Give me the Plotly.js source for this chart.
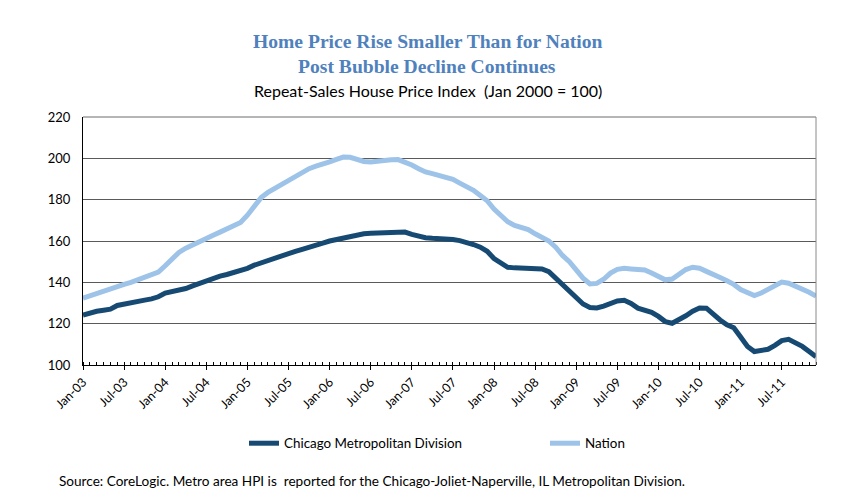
<!DOCTYPE html>
<html>
<head>
<meta charset="utf-8">
<script src="https://cdn.plot.ly/plotly-3.0.1.min.js"></script>
<style>html,body{margin:0;padding:0;background:#fff;}#chart{width:843px;height:503px;}</style>
</head>
<body>
<div id="chart"></div>
<script>
// Month labels Jan-03 .. Dec-11
const monthNames = ["Jan","Feb","Mar","Apr","May","Jun","Jul","Aug","Sep","Oct","Nov","Dec"];
const years = ["03","04","05","06","07","08","09","10","11"];
const months = [];
years.forEach(y => monthNames.forEach(m => months.push(m + "-" + y)));

const tickLabels = ["Jan-03","Jul-03","Jan-04","Jul-04","Jan-05","Jul-05","Jan-06","Jul-06","Jan-07","Jul-07",
  "Jan-08","Jul-08","Jan-09","Jul-09","Jan-10","Jul-10","Jan-11","Jul-11"];

const chicago = [
  124.2,125.2,126.0,126.5,127.0,128.8,129.6,130.2,130.8,131.4,132.0,133.0,
  134.8,135.5,136.0,137.0,138.3,139.6,140.8,142.0,143.0,143.8,144.8,145.5,
  146.8,148.3,149.5,150.5,151.5,152.8,154.0,155.0,156.0,157.2,158.3,159.0,
  160.0,160.8,161.5,162.3,163.0,163.5,163.7,163.9,164.0,164.3,164.6,164.3,
  163.2,162.2,161.6,161.3,161.2,161.0,160.7,160.2,159.5,158.3,157.0,155.0,
  151.5,149.3,147.3,147.0,146.8,146.7,146.6,146.5,145.2,142.0,139.0,136.0,
  132.5,129.5,127.8,127.6,128.5,129.8,131.0,131.3,129.8,127.5,126.2,125.5,
  123.5,121.0,120.2,121.8,123.8,126.0,127.6,127.5,124.5,121.8,119.5,118.0,
  113.5,109.0,106.5,107.0,107.6,109.5,111.8,112.4,110.8,109.0,106.5,104.0
];

const nation = [
  132.3,133.5,134.5,135.5,136.5,137.8,139.0,140.0,141.2,142.5,143.5,145.0,
  148.0,151.5,154.5,156.5,158.2,160.0,161.3,162.8,164.3,166.0,167.8,169.0,
  172.5,177.0,181.0,183.5,185.5,187.5,189.5,191.5,193.5,195.0,196.2,197.0,
  198.3,199.5,200.6,200.5,199.5,198.5,198.2,198.7,199.2,199.3,199.4,198.4,
  196.8,195.0,193.4,192.6,191.8,190.8,189.8,188.0,186.5,184.5,182.0,179.5,
  175.5,172.0,169.3,167.5,166.5,165.5,163.5,162.0,160.0,157.0,153.0,150.0,
  146.0,142.0,139.2,139.5,141.5,144.5,146.3,146.8,146.5,146.4,146.0,144.5,
  142.8,141.2,141.6,143.8,146.2,147.3,146.8,145.3,143.5,142.3,140.8,139.0,
  136.5,134.8,133.6,134.8,136.8,138.8,140.1,139.6,138.3,136.8,135.2,133.3
];

const yTicks = [100,120,140,160,180,200,220];

const xIdx = months.map((_, i) => i);
const tickIdx = tickLabels.map(t => months.indexOf(t));

const traces = [
  {x: xIdx, y: chicago, name: "Chicago Metropolitan Division", type: "scatter", mode: "lines",
   line: {color: "#174a73", width: 5}, hoverinfo: "skip"},
  {x: xIdx, y: nation, name: "Nation", type: "scatter", mode: "lines",
   line: {color: "#9ec3e8", width: 5}, hoverinfo: "skip"}
];

const W = 733, H = 248;
const px = x => (x - 83) / W;
const py = y => (365 - y) / H;

const layout = {
  width: 843, height: 503,
  margin: {l: 83, r: 27, t: 117, b: 138, autoexpand: false},
  paper_bgcolor: "#ffffff", plot_bgcolor: "#ffffff",
  showlegend: true,
  legend: {orientation: "h", x: px(545), y: py(428), xanchor: "center", yanchor: "top",
    font: {family: "Lato, 'Open Sans', sans-serif", size: 13.4, color: "#000"},
    entrywidth: 256, entrywidthmode: "pixels", itemwidth: 30, tracegroupgap: 0},
  xaxis: {
    range: [0, months.length - 1], tickmode: "array", tickvals: tickIdx, ticktext: tickLabels,
    tickangle: -45, ticks: "outside", ticklen: 4, tickwidth: 1, tickcolor: "#000",
    minor: {dtick: 1, tick0: 0, ticks: "inside", ticklen: 3, tickwidth: 1, tickcolor: "#000", showgrid: false},
    showline: true, linecolor: "#000", linewidth: 1, mirror: false, showgrid: false, zeroline: false,
    tickfont: {family: "Lato, 'Open Sans', sans-serif", size: 12.5, color: "#000"}, fixedrange: true
  },
  yaxis: {
    range: [100, 220], tickmode: "array", tickvals: yTicks, ticks: "", ticklabelstandoff: 9,
    showline: true, linecolor: "#000", linewidth: 1, showgrid: true, gridcolor: "#5a5a5a", gridwidth: 1,
    zeroline: false, tickfont: {family: "Lato, 'Open Sans', sans-serif", size: 13, color: "#000"}, fixedrange: true
  },
  shapes: [
    {type: "line", xref: "paper", yref: "paper", x0: 0, x1: 1, y0: 1, y1: 1, line: {color: "#6d6d6d", width: 1}},
    {type: "line", xref: "paper", yref: "paper", x0: 1, x1: 1, y0: 0, y1: 1, line: {color: "#8a8a8a", width: 1}}
  ],
  annotations: [
    {text: "Home Price Rise Smaller Than for Nation", xref: "paper", yref: "paper", x: px(427), y: py(42),
     xanchor: "center", yanchor: "middle", showarrow: false,
     font: {family: "'Liberation Serif', 'DejaVu Serif', serif", size: 19.6, color: "#4f81bd", weight: "bold"}},
    {text: "Post Bubble Decline Continues", xref: "paper", yref: "paper", x: px(427), y: py(66),
     xanchor: "center", yanchor: "middle", showarrow: false,
     font: {family: "'Liberation Serif', 'DejaVu Serif', serif", size: 19.6, color: "#4f81bd", weight: "bold"}},
    {text: "Repeat-Sales House Price Index  (Jan 2000 = 100)", xref: "paper", yref: "paper", x: px(428), y: py(90),
     xanchor: "center", yanchor: "middle", showarrow: false,
     font: {family: "Lato, 'Open Sans', sans-serif", size: 16, color: "#000"}},
    {text: "Source: CoreLogic. Metro area HPI is  reported for the Chicago-Joliet-Naperville, IL Metropolitan Division.",
     xref: "paper", yref: "paper", x: px(57), y: py(481), xanchor: "left", yanchor: "middle", showarrow: false,
     font: {family: "Lato, 'Open Sans', sans-serif", size: 13.6, color: "#000"}}
  ]
};

Plotly.newPlot("chart", traces, layout, {displayModeBar: false, staticPlot: true});
</script>
</body>
</html>
